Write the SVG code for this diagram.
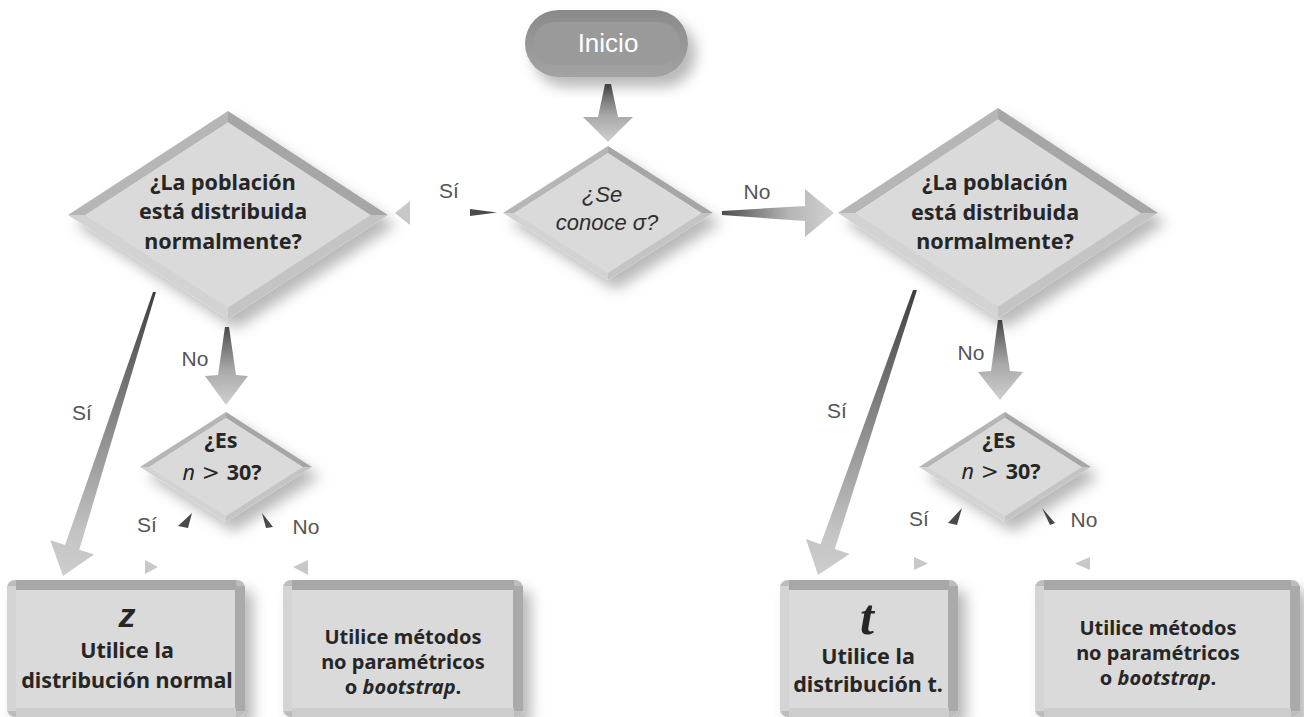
<svg xmlns="http://www.w3.org/2000/svg" xmlns:xlink="http://www.w3.org/1999/xlink" width="1304" height="717" viewBox="0 0 1304 717">
<style>
.nt{font-family:"Noto Sans","DejaVu Sans",sans-serif;font-weight:bold;font-size:21.5px;fill:#262626;text-anchor:middle}
.ns{font-size:20px}
.lb{font-family:"Liberation Sans",Arial,sans-serif;font-size:21px;fill:#555;text-anchor:middle}
.it{font-family:"Liberation Sans",Arial,sans-serif;font-style:italic;font-size:22px;fill:#2e2e2e;text-anchor:middle}
.e-tl{fill:#b6b6b6}.e-tr{fill:#a6a6a6}.e-br{fill:#c4c4c4}.e-bl{fill:#d3d3d3}.e-in{fill:#dadada}
.b-o{fill:#bdbdbd}.b-t{fill:#a7a7a7}.b-l{fill:#d4d4d4}.b-r{fill:#aaaaaa}.b-b{fill:#cdcdcd}.b-i{fill:#dadada}
.lt{fill:#c8c8c8}.dk{fill:#4a4a4a}
</style>
<defs>
<filter id="sh" x="-20%" y="-20%" width="150%" height="150%">
<feDropShadow dx="8" dy="10" stdDeviation="7" flood-color="#000" flood-opacity="0.28"/>
</filter>
<linearGradient id="gv" x1="0" y1="0" x2="0" y2="1">
<stop offset="0" stop-color="#4d4d4d"/><stop offset="0.55" stop-color="#a9a9a9"/><stop offset="1" stop-color="#cfcfcf"/>
</linearGradient>
<linearGradient id="gh" x1="0" y1="0" x2="1" y2="0">
<stop offset="0" stop-color="#4d4d4d"/><stop offset="0.6" stop-color="#b5b5b5"/><stop offset="1" stop-color="#d2d2d2"/>
</linearGradient>
<linearGradient id="gd" x1="0" y1="0" x2="0" y2="1">
<stop offset="0" stop-color="#3f3f3f"/><stop offset="0.35" stop-color="#777"/><stop offset="0.85" stop-color="#c4c4c4"/><stop offset="1" stop-color="#cdcdcd"/>
</linearGradient>
<linearGradient id="gp" x1="0" y1="0" x2="0" y2="1">
<stop offset="0" stop-color="#8a8a8a"/><stop offset="1" stop-color="#a3a3a3"/>
</linearGradient>
<g id="dia">
<polygon class="e-tl" points="-100,0 0,-100 0,-89 -89,0"/>
<polygon class="e-tr" points="0,-100 100,0 89,0 0,-89"/>
<polygon class="e-br" points="100,0 0,100 0,89 89,0"/>
<polygon class="e-bl" points="0,100 -100,0 -89,0 0,89"/>
<polygon class="e-in" points="-89,0 0,-89 89,0 0,89"/>
</g>
</defs>
<rect width="1304" height="717" fill="#fff"/>

<g id="connectors">
<polygon fill="url(#gv)" points="605,84 611,84 618,117 633,117 608,142 583,117 598,117"/>
<polygon fill="url(#gh)" points="722,211 805,206 805,189 834,213 805,237 805,221 722,215"/>
<polygon class="dk" points="470,209 497,212.5 470,216"/>
<polygon class="lt" points="395,213 410,201 410,225"/>
<polygon fill="url(#gv)" points="225,327 229,327 236,375 248,376 226,405 205,376 218,375"/>
<polygon fill="url(#gv)" points="998,320 1002,320 1010,371 1023,372 1000,400 978,372 991,371"/>
<polygon fill="url(#gd)" points="153,292 156,292 79.3,549.7 94.1,554.5 63,576 50.3,540.3 65.1,545.1"/>
<polygon fill="url(#gd)" points="913,290 917,290 834.8,549 849.5,554 818,575 806,539 820.6,544.2"/>
<polygon class="dk" points="192,513 178,526 188,528"/>
<polygon class="dk" points="262,513 273,527 266,528"/>
<polygon class="lt" points="145,560 158,567 145,574"/>
<polygon class="lt" points="293,567 308,560 308,575"/>
<polygon class="dk" points="962,508 948,523 957,525"/>
<polygon class="dk" points="1042,508 1055,523 1050,525"/>
<polygon class="lt" points="914,557 928,563.5 914,570"/>
<polygon class="lt" points="1075,563.5 1090,557 1090,570"/>
<text class="lb" x="449" y="198">Sí</text>
<text class="lb" x="757" y="199">No</text>
<text class="lb" x="195" y="366">No</text>
<text class="lb" x="82" y="420">Sí</text>
<text class="lb" x="147" y="532">Sí</text>
<text class="lb" x="306" y="534">No</text>
<text class="lb" x="971" y="360">No</text>
<text class="lb" x="837" y="418">Sí</text>
<text class="lb" x="919" y="526">Sí</text>
<text class="lb" x="1084" y="527">No</text>
</g>

<g id="inicio">
<g filter="url(#sh)">
<rect x="525" y="10" width="163" height="67" rx="33.5" fill="url(#gp)"/>
<rect x="533" y="22" width="147" height="43" rx="21.5" fill="#9a9a9a"/>
</g>
<text x="608" y="52" font-family="Liberation Sans,Arial,sans-serif" font-size="26" fill="#fff" text-anchor="middle">Inicio</text>
</g>

<g id="conoce-sigma">
<g filter="url(#sh)"><use xlink:href="#dia" href="#dia" transform="translate(608,213) scale(1.05,0.67)"/></g>
<text class="it" x="602" y="202">¿Se</text>
<text class="it" x="607" y="230">conoce σ?</text>
</g>

<g id="normal-izq">
<g filter="url(#sh)"><use xlink:href="#dia" href="#dia" transform="translate(228,215) scale(1.6,1.04)"/></g>
<text class="nt" x="223" y="190">¿La población</text>
<text class="nt" x="223" y="219">está distribuida</text>
<text class="nt" x="223" y="249">normalmente?</text>
</g>

<g id="normal-der">
<g filter="url(#sh)"><use xlink:href="#dia" href="#dia" transform="translate(998,213) scale(1.6,1.05)"/></g>
<text class="nt" x="995" y="190">¿La población</text>
<text class="nt" x="995" y="220">está distribuida</text>
<text class="nt" x="995" y="249">normalmente?</text>
</g>

<g id="n30-izq">
<g filter="url(#sh)"><use xlink:href="#dia" href="#dia" transform="translate(226,467) scale(0.86,0.55)"/></g>
<text class="nt" x="221" y="448">¿Es</text>
<text class="nt" x="222" y="480"><tspan font-style="italic" font-weight="normal">n</tspan><tspan font-weight="normal" font-family="DejaVu Serif,serif"> &gt; </tspan>30?</text>
</g>

<g id="n30-der">
<g filter="url(#sh)"><use xlink:href="#dia" href="#dia" transform="translate(1005,467) scale(0.86,0.55)"/></g>
<text class="nt" x="999" y="448">¿Es</text>
<text class="nt" x="1001" y="479"><tspan font-style="italic" font-weight="normal">n</tspan><tspan font-weight="normal" font-family="DejaVu Serif,serif"> &gt; </tspan>30?</text>
</g>

<g id="box-z">
<g filter="url(#sh)">
<rect class="b-o" x="7" y="580" width="238" height="137" rx="8"/>
<rect class="b-t" x="16" y="580" width="220" height="10"/>
<rect class="b-l" x="7" y="586" width="9" height="125"/>
<rect class="b-r" x="235" y="586" width="10" height="125"/>
<rect class="b-b" x="16" y="708" width="220" height="9"/>
<rect class="b-i" x="16" y="590" width="219" height="118"/>
</g>
<text x="127" y="627" font-family="Liberation Sans,Arial,sans-serif" font-weight="bold" font-style="italic" font-size="34" fill="#262626" text-anchor="middle">z</text>
<text class="nt" x="127" y="658">Utilice la</text>
<text class="nt" x="127" y="688">distribución normal</text>
</g>

<g id="box-np-izq">
<g filter="url(#sh)">
<rect class="b-o" x="283" y="580" width="240" height="137" rx="8"/>
<rect class="b-t" x="292" y="580" width="222" height="10"/>
<rect class="b-l" x="283" y="586" width="9" height="125"/>
<rect class="b-r" x="513" y="586" width="10" height="125"/>
<rect class="b-b" x="292" y="708" width="222" height="9"/>
<rect class="b-i" x="292" y="590" width="221" height="118"/>
</g>
<text class="nt ns" x="403" y="644">Utilice métodos</text>
<text class="nt ns" x="403" y="669">no paramétricos</text>
<text class="nt ns" x="403" y="694">o <tspan font-style="italic">bootstrap</tspan>.</text>
</g>

<g id="box-t">
<g filter="url(#sh)">
<rect class="b-o" x="780" y="580" width="178" height="137" rx="8"/>
<rect class="b-t" x="789" y="580" width="160" height="10"/>
<rect class="b-l" x="780" y="586" width="9" height="125"/>
<rect class="b-r" x="948" y="586" width="10" height="125"/>
<rect class="b-b" x="789" y="708" width="160" height="9"/>
<rect class="b-i" x="789" y="590" width="159" height="118"/>
</g>
<text x="867" y="634" font-family="Liberation Serif,Times New Roman,serif" font-weight="bold" font-style="italic" font-size="50" fill="#262626" text-anchor="middle">t</text>
<text class="nt" x="868" y="664">Utilice la</text>
<text class="nt" x="868" y="692">distribución t.</text>
</g>

<g id="box-np-der">
<g filter="url(#sh)">
<rect class="b-o" x="1035" y="580" width="265" height="137" rx="8"/>
<rect class="b-t" x="1044" y="580" width="247" height="10"/>
<rect class="b-l" x="1035" y="586" width="9" height="125"/>
<rect class="b-r" x="1290" y="586" width="10" height="125"/>
<rect class="b-b" x="1044" y="708" width="247" height="9"/>
<rect class="b-i" x="1044" y="590" width="246" height="118"/>
</g>
<text class="nt ns" x="1158" y="635">Utilice métodos</text>
<text class="nt ns" x="1158" y="660">no paramétricos</text>
<text class="nt ns" x="1158" y="685">o <tspan font-style="italic">bootstrap</tspan>.</text>
</g>
</svg>
